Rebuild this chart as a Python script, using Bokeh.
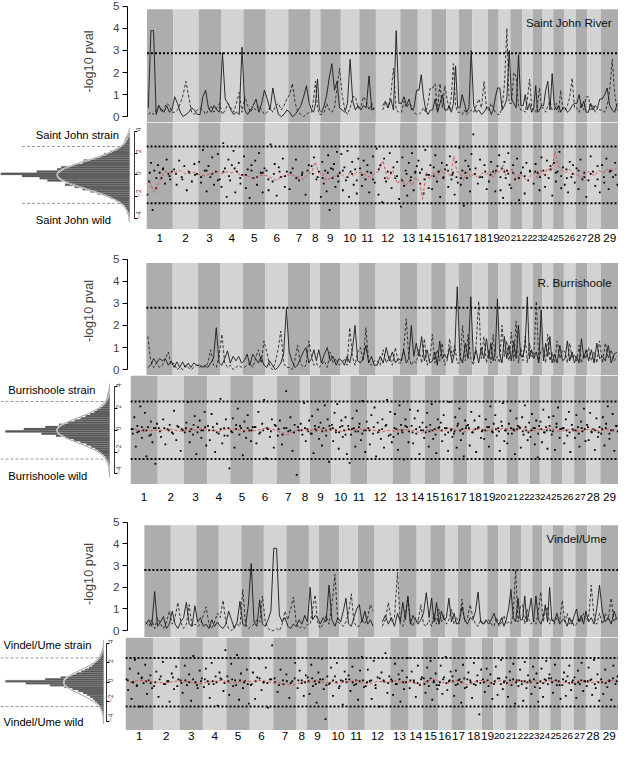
import math
from bokeh.plotting import figure
from bokeh.layouts import column, row
from bokeh.models import Range1d, FixedTicker, ColumnDataSource
from bokeh.embed import file_html
from bokeh.resources import INLINE
from bokeh.core.properties import value, field

NAN = float("nan")
FONT = "Liberation Sans"
S = 0.975

# ---------------- data ----------------
CHROM_NAMES = ["1", "2", "3", "4", "5", "6", "7", "8", "9", "10", "11", "12", "13", "14", "15",
               "16", "17", "18", "19", "20", "21", "22", "23", "24", "25", "26", "27", "28", "29"]
SMALL_NAMES = ["20", "21", "22", "23", "24", "25", "26", "27"]
CHROM_CM = [108, 104, 92, 92, 92, 92, 92, 40, 84, 76, 68, 100, 72, 56, 60, 52, 56, 64, 44, 48,
            48, 44, 40, 44, 44, 48, 48, 56, 72]

HIST_BINS = [-3.9, -3.7, -3.5, -3.3, -3.1, -2.9, -2.7, -2.5, -2.3, -2.1, -1.9, -1.7, -1.5, -1.3,
             -1.1, -0.9, -0.7, -0.5, -0.3, -0.1, 0.1, 0.3, 0.5, 0.7, 0.9, 1.1, 1.3, 1.5, 1.7, 1.9,
             2.1, 2.3, 2.5, 2.7, 2.9, 3.1, 3.3, 3.5, 3.7, 3.9]

# Saint John River
SJ_SOLID = [[0.4, 3.9, 3.9, 0.1, 0.5, 0.3, 0.2, 0.5, 0.2, 0.3], [0.9, 0.6, 0.2, 0.0, 0.1, 0.2, 0.4, 0.3, 0.1],
            [0.1, 0.9, 1.2, 0.4, 0.2, 0.5, 0.3, 0.2], [2.9, 0.8, 0.6, 0.3, 0.1, 0.2, 0.1, 3.15],
            [0.3, 0.1, 0.3, 0.5, 0.8, 0.2, 0.6, 1.2], [0.8, 0.3, 1.3, 0.6, 0.1, 0.0, 0.1, 0.3],
            [0.2, 0.0, 0.1, 0.3, 0.5, 0.9, 1.4, 0.6], [0.3, 0.2, 0.6, 1.7, 0.3],
            [0.2, 0.5, 1.0, 1.8, 2.4, 1.2, 1.6, 0.4], [0.3, 0.2, 0.6, 2.6, 0.7, 0.3, 0.5],
            [0.3, 0.5, 0.4, 1.85, 0.3, 0.4], [NAN, NAN, 0.5, 0.7, 0.4, 0.8, 0.3, 3.9, 0.6],
            [0.6, 0.9, 0.5, 0.8, 0.3, 0.4, 1.2], [1.2, 1.9, 0.9, 0.3, 0.1, 0.3],
            [0.3, 0.8, 0.2, 0.6, 1.0, 0.3], [0.3, 0.5, 0.2, 0.6, 2.3, 0.4],
            [0.4, 1.0, 0.6, 0.2, 0.4, 3.0], [0.5, 0.2, 0.3, 0.1, 0.2, 0.4],
            [0.4, 0.1, 0.3, 0.9, 1.3], [1.3, 0.3, 0.5, 0.8, 3.0], [0.8, 0.6, 0.4, 2.8, 0.5],
            [0.5, 1.0, 0.3, 0.6, 0.2], [0.4, 1.4, 0.2, 0.3, 0.5], [0.5, 1.2, 1.6, 0.3, 1.95],
            [0.5, 0.3, 0.5, 0.2, 0.4], [0.4, 0.2, 0.3, 0.5, 0.6], [0.6, 1.0, 0.4, 0.7, 0.2],
            [0.2, 0.6, 0.3, 0.5, 0.4, 0.8], [0.8, 1.0, 1.3, 0.5, 0.3, 0.2, 0.6]]
SJ_DASHED = [[0.1, 0.2, 0.1, 0.3, 0.5, 0.2, 0.4, 0.6, 0.5, 0.2], [0.2, 0.3, 0.6, 1.0, 1.6, 0.9, 0.2, 0.1, 0.3],
             [0.4, 0.3, 0.1, 0.3, 0.5, 0.2, 0.4, 0.6], [0.1, 0.3, 0.6, 0.4, 0.2, 0.6, 1.1, 0.2],
             [0.9, 0.5, 0.2, 0.4, 0.3, 0.5, 0.3, 0.1], [0.2, 0.4, 0.2, 0.5, 0.6, 0.3, 0.5, 0.8],
             [1.0, 1.5, 0.6, 0.2, 0.1, 0.0, 0.1, 0.2], [0.2, 0.8, 1.6, 0.4, 0.1],
             [0.1, 0.2, 0.6, 0.3, 0.2, 0.4, 1.3, 2.2], [1.0, 0.3, 0.1, 0.4, 0.9, 0.9, 0.4],
             [0.4, 0.9, 0.7, 0.3, 0.6, 0.2], [NAN, NAN, 0.3, 0.6, 0.4, 1.0, 2.2, 0.3, 0.2],
             [0.2, 0.7, 0.4, 0.6, 0.5, 0.2, 0.1], [0.1, 0.2, 0.4, 0.2, 0.6, 1.3],
             [1.3, 1.5, 0.3, 1.5, 0.4, 1.4], [0.8, 0.3, 0.9, 2.4, 0.5, 0.2],
             [0.2, 0.1, 0.3, 0.1, 0.2, 0.3], [0.2, 0.5, 0.8, 0.4, 1.6, 0.3],
             [0.3, 0.6, 0.4, 0.2, 0.1], [0.1, 0.4, 1.5, 4.0, 0.6], [0.6, 2.0, 1.8, 0.5, 0.3],
             [0.3, 0.2, 0.8, 1.7, 0.4], [0.3, 0.2, 0.6, 1.3, 0.4], [0.4, 0.2, 0.5, 0.7, 0.3],
             [0.3, 0.6, 0.2, 1.2, 0.3], [0.3, 0.5, 0.9, 1.75, 0.4], [0.4, 0.2, 0.6, 0.3, 0.9],
             [0.9, 0.3, 0.5, 0.2, 0.4, 0.3], [0.3, 0.2, 0.5, 1.2, 2.6, 1.0, 0.3]]
SJ_POINTS = [[-1.8, -0.6, 1.1, -3.2, 0.4, -1.2, 0.9, 0.2, -0.3, 0.6, -0.8, 1.4, 0.1, -0.4, 0.3],
             [0.5, -0.9, 1.3, -0.2, 0.8, -1.4, 0.2, -0.6, 1.0, 0.1],
             [1.2, -0.7, 2.3, 0.4, -1.5, 0.8, -0.2, 1.6, -0.9, 0.3, 1.9, -0.4],
             [-1.1, 2.9, 0.6, -2.0, 1.4, -0.5, 0.9, 2.2, -1.6, 0.3, 1.1, -0.8, 0.0],
             [1.7, -1.2, 0.5, -2.1, 0.9, -0.3, 1.3, -0.9, 2.0, 0.2, -1.6, 0.6],
             [0.4, -1.4, 2.8, -0.6, 1.0, -1.9, 0.7, -0.2, 1.5, -1.1, 0.3],
             [-1.3, 0.6, 1.4, -0.5, 0.2, -1.8, 0.9], [0.8, 1.6, -0.4, 0.3],
             [-2.0, 1.2, -0.8, 0.4, -1.5, 1.8, -3.2, 0.6, -0.3, 1.0, -1.1, 2.1, -0.6, 0.2],
             [1.9, -1.4, 0.7, -0.5, 2.2, -2.0, 0.3, 1.2, -0.9, 0.5, -1.7, 1.5],
             [0.6, -1.0, 1.3, -0.4, 0.9, -1.6, 0.2, 1.7, -0.7],
             [2.4, -1.8, 0.9, -2.5, 1.5, -0.6, 0.3, 2.0, -1.2, 0.7, -0.3, 1.2, -2.2],
             [-2.9, 1.6, -1.0, 0.4, -1.9, 1.1, -0.5, 2.0, -1.4, 0.2, 0.8],
             [1.3, -0.8, 0.5, -1.7, 2.3, 0.0, -1.2, 0.9],
             [-1.3, 0.7, 1.8, -0.6, 0.3, -2.0, 1.1, -0.2, 0.5],
             [0.9, -1.1, 1.7, -0.4, 0.2, -1.8, 1.2, -0.7],
             [2.5, -0.9, 0.4, -2.8, 1.3, -0.3, 0.8, -1.5, 1.9],
             [3.7, 0.6, -0.8, 1.4, -0.2, 0.9, -1.3], [-0.6, 1.2, 0.3, -1.5, 0.8],
             [1.8, -1.4, 0.6, -2.1, 1.2, -0.3, 0.4, 2.0, -0.9], [-1.2, 0.9, -0.4, 1.5, -2.3, 0.2],
             [0.7, -1.7, 1.1, -0.5, 0.3, -2.6], [-0.8, 1.0, 0.2, -1.4, 1.6],
             [0.4, -1.1, 1.3, -0.3, 0.8, -1.9], [1.1, -0.6, 0.3, 2.1, -1.2, 0.7],
             [-0.9, 0.5, -1.6, 1.2, -0.2, 0.9, -0.7], [0.6, -1.3, 1.4, -0.4, 0.2, -2.0],
             [-0.5, 1.7, 0.3, -1.0, 0.8, -1.6], [0.9, -0.7, 1.5, -1.3, 0.4, -0.2, 1.1, -0.9]]
SJ_CORE = [[0.2, -0.3, 0.5, -0.1], [0.1, -0.4, 0.3, 0.0], [-0.2, 0.4, 0.1, -0.5], [0.3, -0.1, 0.6, -0.3],
           [0.0, 0.4, -0.2, 0.2], [-0.4, 0.1, 0.3, -0.1], [0.2, -0.3, 0.0, 0.4], [0.1, -0.2],
           [-0.3, 0.2, 0.5, -0.1], [0.4, -0.2, 0.1, -0.5], [0.0, 0.3, -0.4], [0.5, -0.3, 0.2, -0.1],
           [-0.5, 0.1, -0.2, 0.3], [0.2, -0.4, 0.0], [-0.1, 0.3, -0.3], [0.4, 0.0, -0.2],
           [-0.3, 0.2, 0.5], [0.1, -0.2, 0.3], [0.0, 0.4], [-0.2, 0.3, 0.1], [0.2, -0.3], [-0.1, 0.4],
           [0.3, -0.2], [0.0, 0.5], [0.2, -0.1], [-0.3, 0.1], [0.4, -0.2], [0.1, -0.4], [-0.2, 0.3, 0.0]]
SJ_RED = [[-0.6, -1.6, -0.5, 0.3, 0.2], [0.3, 0.4, 0.1, 0.3, 0.2], [0.0, -0.1, 0.1, 0.2, 0.3],
          [0.1, 0.3, 0.2, 0.4, -0.1], [0.0, -0.2, -0.4, -0.1, 0.0], [-0.1, -0.3, -0.5, -0.2, 0.0],
          [0.0, -0.1, -0.2, -0.4, 0.1], [0.3, 1.2, 0.2], [0.2, -0.5, -0.3, -0.1, 0.1],
          [0.0, -0.3, 0.2, -0.1, 0.3], [0.2, 0.0, -0.2, 0.1], [0.3, 1.3, -0.5, 0.4, -0.8],
          [-0.3, -1.0, -0.6, -0.9, -0.2], [-0.6, -2.2, 0.3, -0.4], [0.2, -0.3, 0.5, 0.1],
          [0.4, -0.2, 1.7, 0.3], [0.2, -0.5, 0.3, -0.2], [0.1, -0.3, 0.2, 0.0], [0.3, -0.2, 0.4],
          [0.2, 0.9, -0.1, 0.3], [0.5, -0.4, 0.1], [-0.2, -0.6, 0.0], [0.2, -0.3, 0.4],
          [0.0, 0.6, 0.3], [2.2, 0.8, 0.4], [0.2, 0.5, 0.1], [0.0, -0.3, 0.2], [0.3, -0.1, 0.4],
          [0.2, 0.5, 0.3, 0.6]]
SJ_HIST = [1, 1, 2, 3, 4, 5, 7, 10, 14, 20, 25, 33, 40, 48, 56, 66, 64, 84, 92, 110,
           132, 95, 74, 70, 58, 48, 47, 36, 30, 26, 20, 15, 11, 8, 6, 5, 4, 3, 2, 1]
SJ_FIT_MEAN, SJ_FIT_SD, SJ_FIT_PEAK = 0.0, 1.28, 74
SJ_TOP_THR, SJ_SC_THR = 2.87, 2.6

# R. Burrishoole
BU_SOLID = [[0.1, 0.2, 0.5, 0.3, 0.5, 0.4, 0.5, 0.2, 0.4], [0.1, 0.35, 0.1, 0.35, 0.1, 0.3, 0.1, 0.3, 0.2],
            [0.2, 0.1, 0.2, 0.1, 0.3, 0.5, 1.9, 0.3], [0.2, 0.5, 0.85, 0.3, 0.6, 0.4, 0.6, 0.3],
            [0.4, 0.7, 0.2, 0.7, 0.5, 0.3, 0.6, 0.2], [0.1, 0.4, 0.2, 0.0, 0.1, 0.3, 0.7, 2.75],
            [0.8, 0.4, 0.1, 0.2, 0.5, 0.8, 1.0, 0.3], [0.5, 0.9, 0.4, 0.9],
            [0.3, 0.7, 1.0, 0.4, 0.6, 0.2, 0.5], [0.4, 0.2, 0.6, 0.3, 0.9, 2.0, 0.4],
            [0.3, 0.5, 1.1, 0.3, 0.6, 0.2], [0.2, 0.6, 0.3, 1.0, 0.4, 0.8, 0.3, 0.5],
            [0.4, 0.9, 0.3, 0.5, 2.0, 0.6, 1.2], [0.6, 1.5, 0.4, 0.9, 0.3],
            [0.4, 0.8, 0.2, 1.3, 0.5, 0.7], [0.5, 1.0, 0.3, 0.8, 3.75], [0.6, 0.3, 1.2, 0.5, 3.3],
            [0.4, 0.9, 0.3, 1.0, 0.5, 1.4], [0.5, 1.2, 0.4, 0.8, 3.2], [0.7, 0.3, 1.5, 0.5, 1.1],
            [0.4, 1.3, 0.5, 2.0, 0.6], [0.6, 1.1, 3.3, 0.5, 0.9], [0.5, 0.8, 0.3, 2.7],
            [0.4, 1.2, 0.6, 1.5, 0.3], [0.7, 0.3, 1.1, 0.4], [0.5, 1.3, 0.4, 0.8, 0.3],
            [0.6, 0.3, 1.4, 0.5, 0.9], [0.4, 0.9, 0.3, 1.2, 0.5], [0.6, 0.4, 1.1, 0.3, 0.7, 0.8]]
BU_DASHED = [[1.5, 0.4, 0.1, 0.3, 0.1, 0.2, 0.5, 0.8, 0.2], [0.3, 0.0, 0.1, 0.0, 0.2, 0.1, 0.0, 0.1, 0.2],
             [0.1, 0.2, 0.1, 0.3, 0.9, 0.2, 0.1, 0.6], [1.6, 0.3, 0.1, 0.2, 0.0, 0.1, 0.2, 0.1],
             [0.1, 0.2, 0.3, 0.1, 0.5, 0.9, 0.3, 1.3], [0.8, 0.2, 0.0, 0.3, 0.9, 1.75, 0.3, 0.1],
             [0.1, 0.0, 0.4, 1.1, 0.3, 0.1, 0.2, 1.3], [0.6, 0.2, 0.3, 0.1],
             [0.2, 0.4, 0.1, 0.8, 0.3, 0.5, 0.2], [0.3, 0.5, 0.2, 1.9, 0.6, 0.2, 0.8],
             [1.0, 0.4, 1.9, 0.3, 0.2, 0.4], [0.4, 0.2, 0.9, 0.3, 0.6, 0.2, 1.0, 0.3],
             [0.3, 1.0, 2.3, 0.6, 0.2, 0.4, 0.3], [0.9, 0.3, 1.4, 0.2, 0.5],
             [1.6, 0.3, 0.9, 0.4, 1.2, 0.2], [0.4, 1.4, 0.6, 1.1, 0.3], [0.3, 2.0, 0.4, 1.6, 0.5],
             [0.2, 1.1, 3.1, 0.5, 1.5, 0.3], [0.9, 0.3, 1.6, 0.4, 0.6], [0.3, 2.0, 0.6, 1.3, 0.4],
             [1.7, 0.4, 2.2, 0.3, 1.0], [0.4, 1.5, 0.3, 1.2, 0.6], [0.6, 3.1, 0.4, 0.9],
             [1.0, 0.3, 1.6, 0.4, 0.8], [0.3, 1.3, 0.5, 0.9], [0.8, 0.3, 1.2, 0.5, 0.7],
             [0.4, 1.1, 0.3, 0.7, 0.5], [1.0, 0.4, 0.8, 0.3, 1.3], [0.3, 1.2, 0.5, 0.9, 0.4, 0.6]]
BU_POINTS = [[0.1, -0.3, 1.2, -1.5, 0.4, -0.1, 2.2, -0.7, 0.0, 1.6, -2.4, 0.3, -0.5, 0.8, -1.1, 0.2, -3.1, 0.6],
             [0.2, -0.6, 1.0, -1.3, 0.1, 0.5, -0.2, 1.8, -0.9, 0.3, -1.9, 0.0],
             [-0.2, 0.7, 2.6, -1.1, 0.1, -0.4, 1.3, -2.2, 0.3, 0.9, -0.7, 0.0, 1.7, -1.4],
             [0.4, -0.9, 1.5, 0.0, -2.0, 0.6, -0.3, 2.9, -1.2, 0.2, 1.0, -0.5, -3.5],
             [-0.1, 1.1, -1.6, 0.5, 2.0, -0.4, 0.2, -2.3, 0.8, -0.7, 1.4, 0.0, -1.0, 0.3],
             [0.3, -1.2, 1.7, -0.2, 0.6, 2.8, -2.6, 0.1, -0.6, 1.0, -1.6, 0.4],
             [-0.5, 0.9, -1.3, 0.2, 3.6, -0.1, 1.2, -1.9, 0.5, -4.1, 0.0],
             [0.6, -0.4, 2.5, -1.0, 0.1, 0.9],
             [-0.3, 1.3, -2.1, 0.4, 0.0, 1.9, -0.8, 0.7, -1.4, 0.2, 2.3, -0.5, 1.0, -2.9, 0.1],
             [0.5, -1.0, 1.6, -0.2, 2.4, -1.7, 0.3, 0.9, -0.6, 0.0, 1.2, -2.2, 0.4, -3.0],
             [-0.4, 1.1, 0.2, -1.5, 1.8, -0.1, 0.6, -0.9, 2.7, 0.0, -2.0, 0.8],
             [0.2, -1.3, 1.4, -0.3, 2.1, -2.4, 0.7, 0.0, -0.8, 1.0, -1.6, 0.4, 2.8, -0.5, 1.7, -1.1],
             [-0.6, 1.5, 0.1, -1.8, 2.3, 0.5, -0.2, -2.7, 1.0, 0.3, -1.1, 1.9],
             [0.4, -1.2, 1.1, -0.3, 1.8, -2.2, 0.0, 0.7, -0.7],
             [-0.2, 1.6, -1.5, 0.5, 2.4, -0.8, 0.1, -2.1, 1.0, 0.3],
             [0.7, -1.0, 1.4, -0.4, 0.2, -1.9, 2.6, 0.0, -0.6],
             [-0.3, 1.2, -1.6, 0.6, 2.0, -0.9, 0.1, -2.4, 0.9, 0.4],
             [0.5, -1.4, 1.7, -0.2, 0.9, -2.0, 0.2, 1.3, -0.7, 0.0],
             [-0.8, 1.0, 0.3, -1.5, 2.2, -0.1, 0.6], [1.4, -0.5, 0.2, -1.9, 0.8, 2.5, -1.0, 0.0],
             [-1.2, 0.6, 1.8, -0.3, 0.1, -2.2, 1.1, 0.4], [0.3, -1.6, 1.2, -0.4, 2.3, 0.0, -0.9, 0.7],
             [-0.6, 1.5, 0.2, -1.3, 0.9, -2.5, 0.4], [0.8, -1.1, 1.9, -0.2, 0.3, -1.7, 1.2, 0.0],
             [-0.4, 1.3, -1.8, 0.6, 2.1, -0.7, 0.1], [0.2, -1.2, 1.0, -0.5, 1.7, -2.0, 0.5, 0.0],
             [-0.7, 1.4, 0.3, -1.5, 0.8, -0.1, 2.0, -1.0],
             [0.5, -0.9, 1.6, -0.2, 0.1, -1.8, 1.1, -0.6, 0.3],
             [-0.3, 1.2, -1.4, 0.6, 2.2, -0.8, 0.0, 1.5, -1.9, 0.4, -0.1]]
BU_CORE = [[0.1, -0.2, 0.3, 0.0, -0.4, 0.2], [-0.1, 0.2, 0.0, -0.3, 0.4, 0.1], [0.2, -0.1, 0.5, -0.2, 0.0, 0.3],
           [0.0, 0.3, -0.2, 0.1, -0.5, 0.2], [-0.2, 0.1, 0.4, -0.1, 0.2, 0.0], [0.3, -0.3, 0.0, 0.2, -0.1, 0.5],
           [0.1, -0.4, 0.2, 0.0, -0.2, 0.3], [0.0, 0.2, -0.1], [-0.3, 0.1, 0.3, -0.1, 0.0, 0.4],
           [0.2, 0.0, -0.2, 0.4, -0.4, 0.1], [0.1, -0.1, 0.3, -0.3, 0.0], [0.0, 0.3, -0.2, 0.1, 0.5, -0.4],
           [0.2, -0.3, 0.0, 0.4, -0.1], [-0.2, 0.1, 0.3, 0.0], [0.3, -0.1, 0.0, -0.4, 0.2],
           [0.0, 0.2, -0.2, 0.1], [-0.1, 0.4, 0.0, -0.3, 0.2], [0.2, -0.2, 0.1, 0.3, -0.1],
           [0.0, 0.3, -0.2], [0.1, -0.1, 0.4, 0.0], [-0.3, 0.2, 0.0, 0.1], [0.2, -0.1, 0.3, -0.2],
           [0.0, 0.2, -0.3], [0.1, -0.2, 0.0, 0.4], [-0.1, 0.3, 0.1], [0.2, 0.0, -0.2, 0.1],
           [0.0, -0.3, 0.2, 0.1], [0.3, -0.1, 0.0, -0.2], [0.1, 0.2, -0.3, 0.0, 0.4]]
BU_RED = [[0.1, -0.1, 0.0], [0.0, 0.1, -0.1], [0.1, 0.0, 0.2], [0.0, -0.1, 0.1], [0.1, 0.0, -0.1],
          [0.0, 0.2, 0.1], [-0.2, -0.4, 0.0], [0.1, 0.0], [0.0, 0.1, -0.1], [0.1, -0.1, 0.0],
          [0.0, 0.2, 0.0], [0.1, -0.2, 0.0], [-0.1, 0.1, 0.0], [0.0, -0.3], [0.1, 0.0], [-0.1, 0.2],
          [0.0, -0.2], [0.1, 0.0, 0.2], [-0.1, 0.1], [0.0, 0.2], [0.1, -0.1], [0.2, 0.0], [-0.1, 0.1],
          [0.0, 0.2], [0.1, -0.1], [0.0, 0.1], [-0.1, 0.0], [0.1, 0.0], [0.0, 0.1, -0.1]]
BU_HIST = [0.5, 1, 1, 1.5, 2, 3, 4, 5, 7, 9, 12, 15, 19, 24, 30, 37, 45, 55, 70, 107,
           88, 66, 52, 43, 36, 30, 25, 20, 16, 13, 10, 8, 6, 4, 3, 2.5, 2, 1.5, 1, 0.5]
BU_FIT_MEAN, BU_FIT_SD, BU_FIT_PEAK = 0.0, 1.15, 54
BU_TOP_THR, BU_SC_THR = 2.8, 2.65

# Vindel/Ume
VU_SOLID = [[0.3, 0.5, 0.2, 1.8, 0.2, 0.4, 0.65, 0.1, 0.3], [0.9, 0.3, 0.1, 0.4, 0.6, 1.3, 0.3, 0.2, 1.15],
            [0.4, 0.6, 0.2, 0.3, 0.1, 0.5, 0.2, 0.4], [0.2, 0.1, 0.3, 0.9, 0.5, 0.1, 0.4, 1.35],
            [0.3, 0.2, 1.2, 3.1, 0.4, 0.2, 1.4, 0.3], [0.2, 0.5, 0.9, 3.8, 3.8, 0.7, 0.4, 0.6],
            [0.2, 0.1, 0.3, 0.2, 0.5, 0.3, 0.7, 0.4], [2.0, 0.5, 0.7, 0.6],
            [0.3, 0.6, 0.4, 2.1, 0.5, 0.2, 0.6], [0.4, 0.9, 1.5, 0.3, 0.2, 0.6, 1.0],
            [1.2, 0.4, 0.9, 0.3, 0.5, 0.2], [NAN, NAN, 0.4, 0.7, 0.3, 0.6, 0.2, 0.8],
            [0.4, 1.3, 0.5, 1.6, 0.3, 0.7, 0.5], [0.3, 0.5, 0.8, 1.75, 0.6],
            [1.5, 0.4, 1.3, 0.3, 0.9, 0.5], [0.6, 1.5, 0.4, 0.8, 0.3], [0.4, 1.1, 0.5, 0.3, 0.6],
            [0.5, 0.9, 1.78, 0.4, 0.3, 0.5], [0.3, 0.5, 0.8, 0.4], [0.3, 0.6, 0.2, 0.5, 1.0],
            [1.9, 0.6, 0.4, 1.5, 0.5], [0.5, 1.6, 0.4, 0.9, 1.5], [0.4, 1.6, 0.5, 0.3],
            [0.6, 1.2, 0.4, 2.0, 0.5], [0.4, 0.8, 0.3, 0.5], [0.5, 0.2, 0.6, 0.3, 0.7],
            [1.0, 0.4, 0.7, 0.3, 0.9], [0.4, 0.6, 0.3, 1.0, 2.1], [0.9, 0.4, 0.6, 0.3, 0.9, 0.5]]
VU_DASHED = [[0.4, 0.2, 0.5, 0.1, 0.6, 0.3, 0.1, 0.4, 0.9], [0.3, 0.6, 1.3, 0.4, 0.1, 0.3, 1.2, 0.2, 0.3],
             [0.2, 0.3, 0.7, 1.1, 0.3, 0.1, 0.4, 0.8], [0.6, 1.4, 0.4, 0.1, 0.0, 0.2, 0.3, 0.2],
             [1.9, 0.3, 0.1, 0.2, 0.3, 0.5, 0.4, 1.6], [0.4, 0.1, 0.0, 0.0, 0.1, 0.0, 0.3, 0.9],
             [0.5, 1.0, 1.55, 0.3, 0.1, 0.2, 0.1, 0.3], [0.3, 1.0, 1.65, 0.4],
             [0.1, 0.3, 0.7, 0.3, 1.2, 2.6, 0.4], [0.3, 0.2, 0.4, 0.8, 1.7, 0.4, 0.2],
             [0.2, 0.5, 0.3, 0.6, 1.2, 0.9], [NAN, NAN, 0.2, 0.5, 1.3, 0.4, 0.6, 2.7],
             [0.3, 0.2, 0.8, 1.5, 0.4, 0.2, 0.6], [0.4, 1.2, 0.3, 0.2, 0.5],
             [0.2, 0.8, 0.3, 1.0, 0.4, 0.7], [0.3, 0.5, 1.0, 0.3, 0.6], [0.3, 1.45, 0.4, 0.6, 1.2],
             [0.6, 0.3, 0.2, 0.5, 0.3, 0.4], [0.5, 0.3, 0.2, 0.6], [0.2, 0.4, 0.7, 0.3, 0.4],
             [0.3, 0.8, 2.8, 0.4, 1.1], [1.2, 0.3, 1.0, 0.5, 0.3], [0.5, 0.3, 0.9, 1.78],
             [0.4, 0.9, 1.1, 0.3, 0.6], [0.3, 0.6, 0.4, 1.4], [0.4, 0.8, 0.3, 0.5, 0.2],
             [0.3, 0.6, 0.4, 0.8, 0.5], [0.5, 2.1, 0.6, 0.3, 0.8], [0.3, 0.8, 0.5, 1.5, 0.4, 0.7]]
VU_POINTS = [[0.3, -0.8, 1.4, -1.7, 0.0, 2.3, -0.4, 0.9, -2.5, 0.5, -0.1, 1.8, -1.2, 0.2, 0.7, -0.6],
             [-0.4, 1.1, -1.5, 0.6, 2.1, -0.2, 0.1, -2.0, 0.9, -0.7, 1.6, 0.3],
             [0.2, -1.1, 1.7, -0.3, 0.8, -1.9, 2.7, 0.0, -0.6, 1.2, 0.4],
             [-0.5, 1.4, 0.1, -1.6, 2.0, -0.2, 0.6, -2.4, 1.0, 0.3, -0.9, 3.3],
             [0.6, -1.3, 1.9, -0.4, 0.2, 2.8, -1.8, 0.9, -0.6, 0.1, 1.3, -2.2],
             [-0.3, 1.0, -1.7, 0.5, 2.4, -0.8, 0.0, 1.5, -2.6, 0.3, 3.8],
             [0.4, -1.0, 1.3, -0.2, 0.8, -1.6, 0.1, 2.0], [-0.6, 1.2, 0.2, -1.4, 0.7],
             [0.5, -1.2, 1.8, -0.4, 0.1, -2.1, 1.0, 0.3, 2.4, -0.7, -3.8, 0.6],
             [-0.2, 1.5, -1.4, 0.6, 2.0, -0.6, 0.2, -2.3, 1.1, 0.0],
             [0.7, -0.9, 1.6, -0.3, 0.2, -1.8, 1.2, 2.6, -0.5],
             [-0.4, 1.3, 0.1, -1.7, 2.2, -0.6, 0.5, -2.5, 1.0, 0.2, 3.0, -1.1, 0.6],
             [0.3, -1.3, 1.9, -0.2, 0.8, -2.0, 1.2, -0.7, 0.0, 2.5],
             [-0.6, 1.1, 0.2, -1.5, 1.7, -0.3, 0.5],
             [0.4, -1.1, 1.5, -0.4, 2.2, -1.8, 0.1, 0.9, -0.7],
             [-0.3, 1.7, -1.2, 0.5, 2.6, -0.8, 0.1, 1.1],
             [0.6, -1.4, 1.2, -0.2, 0.3, -2.1, 1.8, -0.6],
             [-0.5, 1.0, 0.2, -1.6, 2.0, -0.3, 0.7, -3.3, 1.3],
             [0.3, -1.0, 1.4, -0.4, 0.8, -1.7], [-0.2, 1.6, -1.3, 0.4, 2.3, -0.7, 0.1],
             [0.5, -1.5, 1.1, -0.3, 1.9, -2.2, 0.2], [-0.4, 1.3, 0.1, -1.9, 2.1, -0.6, 0.7],
             [0.2, -1.2, 1.6, -0.5, 0.9, -2.0], [-0.6, 1.4, -1.5, 0.3, 2.2, -0.2, 0.8],
             [0.4, -1.1, 1.8, -0.3, 0.1, -1.7], [-0.3, 1.0, -1.4, 0.6, 1.7, -0.8, 0.2],
             [0.5, -1.6, 1.2, -0.2, 2.0, -0.9, 0.1], [-0.4, 1.5, 0.2, -1.3, 2.3, -0.6, 0.8, -1.9],
             [0.3, -1.2, 1.3, -0.5, 0.1, -1.8, 1.7, -0.2, 0.6]]
VU_CORE = [[0.2, 0.0, -0.3, 0.4, 0.1, -0.1], [0.0, 0.3, -0.2, 0.1, 0.5, -0.4], [-0.1, 0.2, 0.0, 0.3, -0.3, 0.1],
           [0.3, -0.2, 0.1, 0.0, 0.4, -0.1], [0.1, 0.3, -0.3, 0.2, 0.0, -0.2], [-0.2, 0.1, 0.4, 0.0, -0.1, 0.3],
           [0.0, -0.3, 0.2, 0.1, -0.1, 0.4], [0.2, -0.1, 0.0], [0.1, 0.4, -0.2, 0.0, 0.3, -0.3],
           [-0.1, 0.2, 0.0, -0.4, 0.1, 0.3], [0.3, 0.0, -0.2, 0.1, 0.2], [0.0, 0.2, -0.3, 0.4, 0.1, -0.1],
           [0.1, -0.2, 0.3, 0.0, 0.5], [0.2, 0.0, -0.1, 0.3], [-0.2, 0.1, 0.4, 0.0, -0.3],
           [0.0, 0.3, -0.1, 0.2], [0.1, -0.3, 0.2, 0.0, 0.4], [0.3, 0.0, -0.2, 0.1, -0.1],
           [0.0, 0.2, -0.1], [0.1, 0.4, -0.2, 0.0], [-0.1, 0.2, 0.3, 0.0], [0.2, -0.2, 0.1, 0.0],
           [0.0, 0.3, -0.1], [0.1, -0.1, 0.2, 0.4], [0.0, 0.2, -0.3], [0.3, 0.1, -0.1, 0.0],
           [-0.2, 0.0, 0.2, 0.1], [0.1, 0.3, -0.2, 0.0], [0.0, -0.1, 0.2, 0.4, 0.1]]
VU_RED = [[0.0, 0.2, 0.1], [0.0, -0.1, 0.1], [0.1, 0.0, -0.2], [0.0, 0.1, 0.2], [-0.1, 0.0, 0.1],
          [0.1, 0.2, 0.0], [0.0, -0.2, -0.3], [-0.1, 0.1], [0.0, 0.2, -0.1], [0.1, -0.1, 0.0],
          [0.1, 0.2, 0.0], [-0.2, 0.1, 0.0], [0.2, 0.0, 0.1], [0.0, -0.2], [0.1, 0.3], [0.0, -0.1],
          [0.2, 0.0], [-0.3, 0.0, 0.2], [0.1, -0.1], [0.0, 0.3], [-0.2, 0.1], [0.2, -0.1], [0.0, 0.2],
          [-0.1, 0.1], [0.2, 0.0], [0.0, -0.2], [0.1, 0.2], [-0.1, 0.1], [0.0, 0.2, 0.1]]
VU_HIST = [0.5, 0.5, 1, 1, 1.5, 2, 3, 4, 5, 7, 9, 11, 14, 17, 21, 26, 32, 40, 55, 80,
           101, 60, 44, 34, 28, 23, 19, 15, 12, 10, 8, 6, 5, 4, 3, 2, 1.5, 1, 0.5, 0.5]
VU_FIT_MEAN, VU_FIT_SD, VU_FIT_PEAK = 0.0, 1.2, 41
VU_TOP_THR, VU_SC_THR = 2.8, 2.5

PANELS = [
    dict(title="Saint John River", strain="Saint John strain", wild="Saint John wild",
         solid=SJ_SOLID, dashed=SJ_DASHED, points=SJ_POINTS, core=SJ_CORE, red=SJ_RED, hist=SJ_HIST,
         fit=(SJ_FIT_MEAN, SJ_FIT_SD, SJ_FIT_PEAK), top_thr=SJ_TOP_THR, sc_thr=SJ_SC_THR),
    dict(title="R. Burrishoole", strain="Burrishoole strain", wild="Burrishoole wild",
         solid=BU_SOLID, dashed=BU_DASHED, points=BU_POINTS, core=BU_CORE, red=BU_RED, hist=BU_HIST,
         fit=(BU_FIT_MEAN, BU_FIT_SD, BU_FIT_PEAK), top_thr=BU_TOP_THR, sc_thr=BU_SC_THR),
    dict(title="Vindel/Ume", strain="Vindel/Ume strain", wild="Vindel/Ume wild",
         solid=VU_SOLID, dashed=VU_DASHED, points=VU_POINTS, core=VU_CORE, red=VU_RED, hist=VU_HIST,
         fit=(VU_FIT_MEAN, VU_FIT_SD, VU_FIT_PEAK), top_thr=VU_TOP_THR, sc_thr=VU_SC_THR),
]

# ---------------- layout (reference pixel geometry) ----------------
GEOM = [
    dict(top=-2, axis_x=130, band_x=150, y5=4, y0=117, band_top=7, split=123, sc_zero=176.7,
         sc_scale=11.2, band_bottom=232, bottom=250, label_y=241, hist_axis_x=137, hist_base=132,
         dash_left=22, text_left=36, strain_y=136, wild_y=223, title_y=21, title_right=627),
    dict(top=250, axis_x=113, band_x=133, y5=263, y0=376, band_top=267, split=382, sc_zero=438,
         sc_scale=11.1, band_bottom=493, bottom=520, label_y=506, hist_axis_x=117, hist_base=112,
         dash_left=0, text_left=8, strain_y=397, wild_y=485, title_y=287, title_right=627),
    dict(top=520, axis_x=110, band_x=128, y5=532, y0=643, band_top=535, split=650, sc_zero=696,
         sc_scale=10.0, band_bottom=745, bottom=760, label_y=751, hist_axis_x=109, hist_base=106,
         dash_left=0, text_left=3, strain_y=658, wild_y=737, title_y=549, title_right=622),
]

DARK, LIGHT = "#adadad", "#d3d3d3"
REF_W = 634
W = round(REF_W * S)

starts = []
acc = 0
for L in CHROM_CM:
    starts.append(acc)
    acc += L
G = acc
ends = [s + L for s, L in zip(starts, CHROM_CM)]
centers = [s + L / 2 for s, L in zip(starts, CHROM_CM)]
band_colors = [DARK if i % 2 == 0 else LIGHT for i in range(len(CHROM_CM))]


def spread(lists):
    xs, ys = [], []
    for i, vals in enumerate(lists):
        n = len(vals)
        for j, v in enumerate(vals):
            xs.append(starts[i] + (j + 0.5) * CHROM_CM[i] / n)
            ys.append(v)
    return xs, ys


def px(v):
    return "%.1fpx" % (v * S)


def clean(p):
    p.outline_line_color = None
    p.grid.visible = False
    p.background_fill_color = "white"
    p.border_fill_color = "white"


def make_panel(d, g):
    k = (g["y0"] - g["y5"]) / 5.0
    u = G / (REF_W - g["band_x"])

    # ---- top: -log10 pval ----
    h1 = round((g["split"] - g["top"]) * S)
    top = figure(width=W, height=h1, output_backend="svg", toolbar_location=None,
                 x_range=Range1d(-(g["band_x"] - g["axis_x"]) * u, G),
                 y_range=Range1d(-(g["split"] - g["y0"]) / k, (g["y0"] - g["top"]) / k),
                 x_axis_location=None, min_border_left=round(g["axis_x"] * S),
                 min_border_right=0, min_border_top=0, min_border_bottom=0)
    clean(top)
    band_top = (g["y0"] - g["band_top"]) / k
    top.quad(left=starts, right=ends, bottom=top.y_range.start, top=band_top,
             fill_color=band_colors, line_color=None)
    top.line([0, G], [d["top_thr"], d["top_thr"]], line_color="black", line_width=2,
             line_dash="2 2")
    xs, ys = spread(d["dashed"])
    top.line(xs, ys, line_color="#262626", line_width=0.9, line_dash="3 2")
    xs, ys = spread(d["solid"])
    top.line(xs, ys, line_color="#1a1a1a", line_width=0.9)
    top.text(x=[G], y=[(g["y0"] - g["title_y"]) / k], text=[d["title"]], text_align="right",
             text_baseline="middle", x_offset=-(REF_W - g["title_right"]) * S,
             text_font=value(FONT), text_font_size=px(12), text_color="#111111")
    ax = top.yaxis[0]
    ax.ticker = FixedTicker(ticks=[0, 1, 2, 3, 4, 5])
    ax.bounds = (0, 5)
    ax.minor_tick_line_color = None
    ax.major_tick_in = 0
    ax.major_tick_out = 5
    ax.major_label_standoff = 3
    ax.major_label_text_font = FONT
    ax.major_label_text_font_size = px(12)
    ax.axis_label = "-log10 pval"
    ax.axis_label_text_font = FONT
    ax.axis_label_text_font_style = "normal"
    ax.axis_label_text_font_size = px(13)
    ax.axis_label_standoff = 14
    ax.axis_line_color = "black"

    # ---- bottom: histogram + scatter ----
    h2 = round((g["bottom"] - g["split"]) * S)
    wb = round(g["band_x"] * S)
    ysc = Range1d(-(g["bottom"] - g["sc_zero"]) / g["sc_scale"],
                  (g["sc_zero"] - g["split"]) / g["sc_scale"])
    band_bot = -(g["band_bottom"] - g["sc_zero"]) / g["sc_scale"]

    sc = figure(width=W - wb, height=h2, output_backend="svg", toolbar_location=None,
                x_range=Range1d(0, G), y_range=ysc, x_axis_location=None, y_axis_location=None,
                min_border_left=0, min_border_right=0, min_border_top=0, min_border_bottom=0)
    clean(sc)
    sc.quad(left=starts, right=ends, bottom=band_bot, top=ysc.end, fill_color=band_colors,
            line_color=None)
    for t in (d["sc_thr"], -d["sc_thr"]):
        sc.line([0, G], [t, t], line_color="black", line_width=2, line_dash="2 2")
    for key in ("points", "core"):
        xs, ys = spread(d[key])
        sc.scatter(xs, ys, marker="square", size=1.8, fill_color="black", line_color=None)
    xs, ys = spread(d["red"])
    sc.line(xs, ys, line_color="#e03c3c", line_width=1, line_alpha=0.8, line_dash="3 2")
    lab_src = ColumnDataSource(dict(
        x=centers, y=[(g["sc_zero"] - g["label_y"]) / g["sc_scale"]] * len(centers),
        t=CHROM_NAMES, fs=[px(10) if n in SMALL_NAMES else px(12) for n in CHROM_NAMES]))
    sc.text(x="x", y="y", text="t", source=lab_src, text_align="center",
            text_baseline="middle", text_font=value(FONT), text_font_size=field("fs"),
            text_color="black")

    hb = g["hist_base"]
    hf = figure(width=wb, height=h2, output_backend="svg", toolbar_location=None,
                x_range=Range1d(hb, -(g["hist_axis_x"] - hb)), y_range=ysc,
                x_axis_location=None, y_axis_location="right",
                min_border_left=0, min_border_right=wb - round(g["hist_axis_x"] * S),
                min_border_top=0, min_border_bottom=0)
    clean(hf)
    hf.hbar(y=HIST_BINS, height=0.2, left=0, right=d["hist"], fill_color="#555555",
            line_color="#8a8a8a", line_width=0.3)
    mu, sd, pk = d["fit"]
    cy = [-4.3 + 0.05 * i for i in range(173)]
    cx = [pk * math.exp(-((y - mu) ** 2) / (2 * sd * sd)) for y in cy]
    hf.line(cx, cy, line_color="white", line_width=1.6)
    hf.line(cx, cy, line_color="#3a3a3a", line_width=0.5)
    for t in (d["sc_thr"], -d["sc_thr"]):
        hf.line([hb - g["dash_left"], 0], [t, t], line_color="#808080", line_width=0.8,
                line_dash="3 2")
    hf.text(x=[hb - g["text_left"]] * 2,
            y=[(g["sc_zero"] - g["strain_y"]) / g["sc_scale"],
               (g["sc_zero"] - g["wild_y"]) / g["sc_scale"]],
            text=[d["strain"], d["wild"]], text_align="left", text_baseline="middle",
            text_font=value(FONT), text_font_size=px(11.5), text_color="black")
    rax = hf.yaxis[0]
    rax.ticker = FixedTicker(ticks=[-4, -2, 0, 2, 4])
    rax.bounds = (-4, 4)
    rax.minor_tick_line_color = None
    rax.major_tick_in = 0
    rax.major_tick_out = 3
    rax.major_label_standoff = 1
    rax.major_label_orientation = math.pi / 2
    rax.major_label_text_font = FONT
    rax.major_label_text_font_size = "6.5px"
    rax.axis_line_color = "black"
    rax.axis_line_width = 0.8

    return [top, row(hf, sc, spacing=0)]


items = []
for d, g in zip(PANELS, GEOM):
    items.extend(make_panel(d, g))

layout = column(*items, spacing=0)
open("out.html", "w").write(file_html(layout, INLINE, title="Chromosome scan"))
